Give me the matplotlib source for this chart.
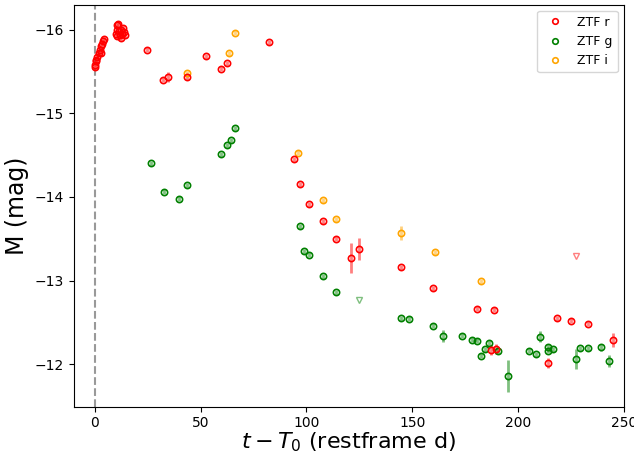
import matplotlib
matplotlib.use("Agg")
import matplotlib.pyplot as plt
from matplotlib.lines import Line2D

# ZTF r detections
r_t = [0.0, 0.2, 0.5, 0.8, 1.2, 2.0, 2.5, 3.0, 3.2, 3.6, 4.0, 4.3,
       10.0, 10.3, 10.5, 10.6, 11.0, 11.3, 11.8, 12.2, 12.6, 13.0, 13.4, 13.8, 14.2,
       24.6, 32.5, 34.7, 43.7, 52.6, 59.6, 62.6, 82.4,
       94.2, 97.2, 101.3, 108.0, 114.0, 121.0, 124.9, 144.9, 159.7,
       180.6, 188.5, 187.4, 189.5, 214.2, 218.2, 225.1, 233.2, 245.0]
r_m = [-15.55, -15.58, -15.62, -15.64, -15.67, -15.72, -15.76, -15.80, -15.72, -15.83, -15.86, -15.89,
       -15.95, -16.00, -15.92, -16.05, -16.07, -15.98, -15.93, -15.90, -16.00, -15.95, -16.02, -15.97, -15.93,
       -15.76, -15.40, -15.43, -15.43, -15.68, -15.53, -15.60, -15.85,
       -14.45, -14.15, -13.91, -13.71, -13.50, -13.27, -13.38, -13.16, -12.91,
       -12.66, -12.65, -12.17, -12.18, -12.01, -12.55, -12.52, -12.48, -12.29]
r_e = [0.03] * 25 + [0.03, 0.03, 0.06, 0.03, 0.03, 0.03, 0.03, 0.03,
       0.03, 0.03, 0.03, 0.03, 0.03, 0.18, 0.13, 0.03, 0.03,
       0.03, 0.03, 0.06, 0.06, 0.06, 0.03, 0.03, 0.03, 0.08]

# ZTF g detections
g_t = [26.6, 32.6, 39.8, 43.7, 59.6, 62.6, 64.5, 66.4,
       97.2, 99.1, 101.3, 108.0, 114.0,
       144.9, 148.7, 159.7, 164.7, 173.6, 178.4, 180.6, 186.4, 184.4, 182.5, 190.4, 195.2,
       205.3, 208.3, 210.2, 214.2, 214.2, 216.4, 227.2, 229.1, 233.2, 239.1, 243.1]
g_m = [-14.40, -14.06, -13.98, -14.14, -14.51, -14.62, -14.68, -14.82,
       -13.65, -13.35, -13.31, -13.05, -12.86,
       -12.55, -12.54, -12.46, -12.34, -12.34, -12.29, -12.28, -12.25, -12.18, -12.10, -12.16, -11.86,
       -12.16, -12.12, -12.33, -12.20, -12.16, -12.18, -12.06, -12.19, -12.19, -12.20, -12.04]
g_e = [0.03] * 13 + [0.03, 0.03, 0.03, 0.07, 0.03, 0.03, 0.03, 0.04, 0.03, 0.03, 0.04, 0.19,
       0.03, 0.03, 0.07, 0.04, 0.03, 0.03, 0.12, 0.03, 0.03, 0.04, 0.07]

# ZTF i detections
i_t = [43.7, 63.5, 66.4, 96.2, 108.0, 114.0, 144.9, 160.6, 182.6]
i_m = [-15.48, -15.72, -15.96, -14.53, -13.96, -13.73, -13.57, -13.34, -12.99]
i_e = [0.03, 0.03, 0.03, 0.03, 0.03, 0.03, 0.08, 0.03, 0.03]

# Upper limits
ul_r_t = [227.2]
ul_r_m = [-13.29]
ul_g_t = [124.9]
ul_g_m = [-12.77]

fig = plt.figure(figsize=(6.34, 4.55), dpi=100)
ax = fig.add_axes([0.116, 0.106, 0.868, 0.884])

for t, m, e, c in [(g_t, g_m, g_e, 'green'), (i_t, i_m, i_e, 'orange'), (r_t, r_m, r_e, 'red')]:
    ax.errorbar(t, m, yerr=e, fmt='o', mfc='none', mec=c, ms=4.5, mew=1.2,
                ecolor=c, elinewidth=2, zorder=3)
for coll in ax.collections:
    coll.set_alpha(0.5)

ax.plot(ul_r_t, ul_r_m, 'v', mfc='none', mec='red', ms=5, mew=1.0, alpha=0.5)
ax.plot(ul_g_t, ul_g_m, 'v', mfc='none', mec='green', ms=5, mew=1.0, alpha=0.5)

ax.axvline(0, color='gray', ls='--', lw=1.5, alpha=0.8, zorder=1)

ax.set_xlim(-10, 250)
ax.set_ylim(-11.49, -16.3)
ax.set_xticks([0, 50, 100, 150, 200, 250])
ax.set_yticks([-16, -15, -14, -13, -12])

ax.set_xlabel(r'$t - T_0$ (restframe d)', fontsize=16, labelpad=0)
ax.set_ylabel('M (mag)', fontsize=17)

handles = [Line2D([], [], ls='none', marker='o', mfc='none', mec=c, ms=4, mew=1.2)
           for c in ['red', 'green', 'orange']]
ax.legend(handles, ['ZTF r', 'ZTF g', 'ZTF i'], loc='upper right', fontsize=9)

fig.savefig('out.png', dpi=100)
